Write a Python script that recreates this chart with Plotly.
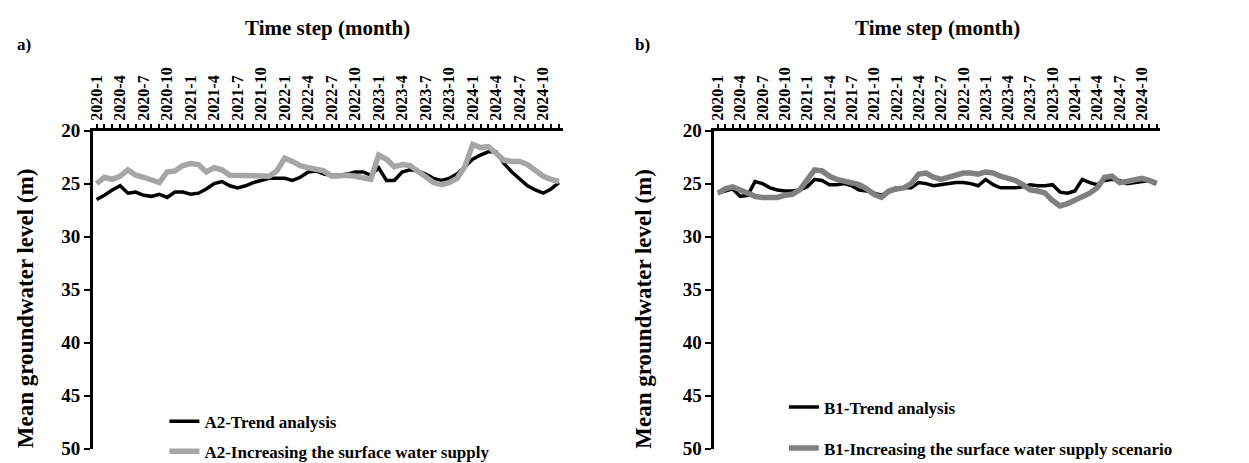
import plotly.graph_objects as go

# ---------------- data ----------------
months = [f"{y}-{m}" for y in range(2020, 2025) for m in range(1, 13)]
tick_labels = ["2020-1", "2020-4", "2020-7", "2020-10",
               "2021-1", "2021-4", "2021-7", "2021-10",
               "2022-1", "2022-4", "2022-7", "2022-10",
               "2023-1", "2023-4", "2023-7", "2023-10",
               "2024-1", "2024-4", "2024-7", "2024-10"]

a2_trend = [26.5, 26.1, 25.6, 25.2, 25.9, 25.8, 26.1, 26.2, 26.0, 26.3,
            25.8, 25.8, 26.0, 25.9, 25.5, 25.0, 24.8, 25.2, 25.4, 25.2,
            24.9, 24.7, 24.5, 24.5, 24.5, 24.7, 24.4, 23.9, 23.8, 24.1,
            24.2, 24.2, 24.1, 23.9, 23.9, 24.2, 23.5, 24.7, 24.7, 23.9,
            23.7, 23.8, 24.1, 24.5, 24.7, 24.5, 24.1, 23.4, 22.7, 22.3,
            22.0, 22.0, 23.1, 23.9, 24.5, 25.2, 25.6, 25.9, 25.5, 24.9]
a2_supply = [25.0, 24.4, 24.6, 24.3, 23.7, 24.2, 24.4, 24.6, 24.9, 23.9,
             23.8, 23.3, 23.1, 23.2, 23.9, 23.5, 23.7, 24.2, 24.2, 24.2,
             24.2, 24.3, 24.3, 23.8, 22.6, 22.9, 23.3, 23.5, 23.6, 23.8,
             24.3, 24.2, 24.2, 24.3, 24.5, 24.6, 22.3, 22.7, 23.4, 23.2,
             23.3, 23.8, 24.4, 24.9, 25.1, 24.9, 24.5, 23.4, 21.3, 21.6,
             21.5, 22.1, 22.8, 22.9, 22.9, 23.2, 23.8, 24.3, 24.6, 24.8]
b1_trend = [25.9, 25.7, 25.5, 26.2, 26.1, 24.8, 25.0, 25.4, 25.6, 25.7,
            25.7, 25.6, 25.3, 24.6, 24.7, 25.1, 25.1, 25.0, 25.2, 25.6,
            25.7, 25.9, 26.1, 25.7, 25.4, 25.4, 25.4, 24.9, 25.0, 25.2,
            25.1, 25.0, 24.9, 24.9, 25.0, 25.2, 24.6, 25.1, 25.4, 25.4,
            25.4, 25.3, 25.1, 25.2, 25.2, 25.1, 25.8, 25.9, 25.7, 24.6,
            24.9, 25.1, 24.7, 24.6, 24.7, 25.0, 24.9, 24.8, 24.7, 24.9]
b1_supply = [25.9, 25.5, 25.3, 25.6, 26.0, 26.2, 26.3, 26.3, 26.3, 26.1,
             26.0, 25.6, 24.7, 23.7, 23.8, 24.3, 24.6, 24.8, 24.9, 25.1,
             25.5, 26.0, 26.3, 25.7, 25.5, 25.4, 25.0, 24.1, 24.0, 24.4,
             24.6, 24.4, 24.2, 24.0, 24.0, 24.1, 23.9, 24.0, 24.3, 24.5,
             24.7, 25.1, 25.6, 25.7, 25.9, 26.6, 27.1, 26.9, 26.6, 26.2,
             25.9, 25.4, 24.4, 24.3, 24.9, 24.8, 24.6, 24.5, 24.7, 25.0]

y_ticks = [20, 25, 30, 35, 40, 45, 50]

# ---------------- figure ----------------
W, H = 1249, 463
FONT = "Liberation Serif"
BOLD = dict(family=FONT, color="black", weight="bold")

A_X = (80, 552)
B_X = (704, 1152)
TOP, BOT = 118, 451

fig = go.Figure()
fig.add_trace(go.Scatter(x=months, y=a2_trend, mode="lines", name="A2-Trend analysis",
                         line=dict(color="#000000", width=3.5), xaxis="x", yaxis="y",
                         legend="legend", legendgroup="a1"))
fig.add_trace(go.Scatter(x=months, y=a2_supply, mode="lines",
                         name="A2-Increasing the surface water supply",
                         line=dict(color="#A6A6A6", width=5.5), xaxis="x", yaxis="y",
                         legend="legend", legendgroup="a2"))
fig.add_trace(go.Scatter(x=months, y=b1_trend, mode="lines", name="B1-Trend analysis",
                         line=dict(color="#000000", width=3.5), xaxis="x2", yaxis="y2",
                         legend="legend2", legendgroup="b1"))
fig.add_trace(go.Scatter(x=months, y=b1_supply, mode="lines",
                         name="B1-Increasing the surface water supply scenario",
                         line=dict(color="#808080", width=5.5), xaxis="x2", yaxis="y2",
                         legend="legend2", legendgroup="b2"))

ticktext = [m if m in tick_labels else "" for m in months]


def xaxis(domain, anchor):
    return dict(domain=domain, anchor=anchor, side="top", type="category",
                range=[-0.5, 59.5], tickmode="array", tickvals=months, ticktext=ticktext,
                tickangle=-90, ticks="outside", ticklen=4, tickwidth=2, tickcolor="black",
                showline=True, linecolor="black", linewidth=2.5, showgrid=False,
                zeroline=False, tickfont=dict(size=16, **BOLD))


def yaxis(domain, anchor):
    return dict(domain=domain, anchor=anchor, range=[50, 20], tickmode="array",
                tickvals=y_ticks, ticks="outside", ticklen=6, tickwidth=2, tickcolor="black",
                showline=True, linecolor="black", linewidth=2.5, showgrid=False,
                zeroline=False, tickfont=dict(size=19, **BOLD))


def ann(text, x, y, size, angle=0):
    return dict(text=text, x=x / W, y=1 - y / H, xref="paper", yref="paper",
                xanchor="center", yanchor="middle", showarrow=False, textangle=angle,
                font=dict(size=size, **BOLD))


fig.update_layout(
    width=W, height=H,
    margin=dict(l=0, r=0, t=0, b=0),
    paper_bgcolor="white", plot_bgcolor="white",
    xaxis=xaxis([A_X[0] / W, A_X[1] / W], "y"),
    yaxis=yaxis([1 - BOT / H, 1 - TOP / H], "x"),
    xaxis2=xaxis([B_X[0] / W, B_X[1] / W], "y2"),
    yaxis2=yaxis([1 - BOT / H, 1 - TOP / H], "x2"),
    legend=dict(x=152 / W, y=1 - 404 / H, xanchor="left", yanchor="top",
                bgcolor="rgba(0,0,0,0)", traceorder="grouped", tracegroupgap=5,
                font=dict(size=17, **BOLD)),
    legend2=dict(x=774 / W, y=1 - 389 / H, xanchor="left", yanchor="top",
                 bgcolor="rgba(0,0,0,0)", traceorder="grouped", tracegroupgap=16,
                 font=dict(size=17, **BOLD)),
    annotations=[
        ann("Time step (month)", (A_X[0] + A_X[1]) / 2, 10, 21),
        ann("Time step (month)", (B_X[0] + B_X[1]) / 2, 10, 21),
        ann("Mean groundwater level (m)", 12, 304, 23, -90),
        ann("Mean groundwater level (m)", 633, 304, 23, -90),
        ann("a)", 11, 28, 17),
        ann("b)", 632, 28, 17),
    ],
)

fig.write_html("out.html")
